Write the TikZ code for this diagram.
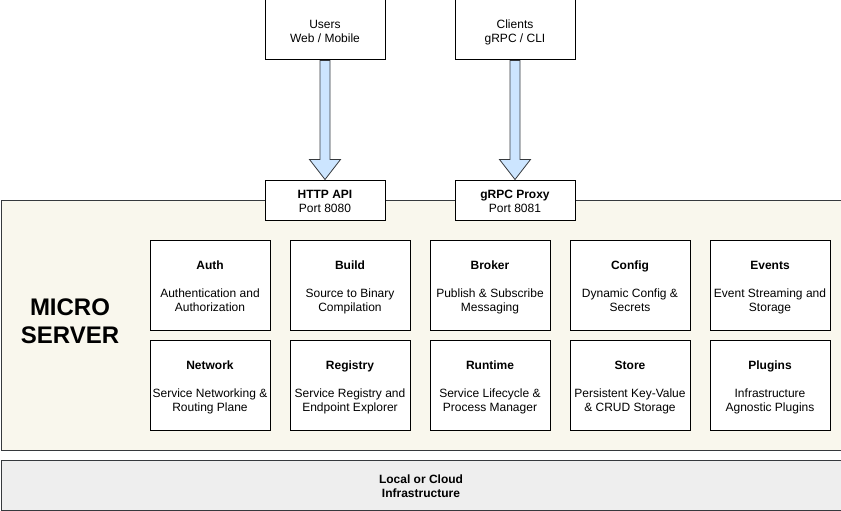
\documentclass[tikz,border=0pt]{standalone}
\usepackage{fontspec}
\setmainfont{Liberation Sans}
\usetikzlibrary{calc}
\definecolor{strokec}{HTML}{36393D}
\definecolor{cream}{HTML}{F9F7ED}
\definecolor{infra}{HTML}{EEEEEE}
\definecolor{arrowfill}{HTML}{CCE5FF}
\newcommand{\topstrut}{\rule{0pt}{14.1pt}}
\newcommand{\botstrut}{\rule[-3.5pt]{0pt}{3.5pt}}
\newcommand{\svctext}[3]{\topstrut{\bfseries #1}\\[14pt]#2\\#3\botstrut}
\begin{document}
\begin{tikzpicture}[x=1pt,y=-1pt,
  every node/.style={font=\fontsize{12}{14}\selectfont, align=center, inner sep=0pt},
  plainbox/.style={draw=black, fill=white, line width=1pt, minimum width=120pt, minimum height=60pt},
  portbox/.style={draw=black, fill=white, line width=1pt, minimum width=120pt, minimum height=40pt},
  svcbox/.style={draw=black, fill=white, line width=1pt, minimum width=120pt, minimum height=90pt},
  bigarrow/.style={draw=strokec, fill=arrowfill, line width=0.8pt, line join=miter}]
\useasboundingbox (0,0) rectangle (841,511);
% container
\node[draw=strokec, fill=cream, line width=1pt, minimum width=840pt, minimum height=250pt, anchor=north west] (micro) at (0.5,200) {};
\node[draw=strokec, fill=infra, line width=1pt, minimum width=840pt, minimum height=50pt, anchor=north west, font=\fontsize{12}{14}\selectfont\bfseries] (infra) at (0.5,460) {\topstrut Local or Cloud\\Infrastructure\botstrut};
\node[font=\fontsize{24}{28}\selectfont\bfseries] (title) at (70,321) {\rule{0pt}{22.6pt}MICRO\\SERVER\rule[-5.4pt]{0pt}{5.4pt}};
% top
\node[plainbox] (users) at (325,30) {\topstrut Users\\Web / Mobile\botstrut};
\node[plainbox] (clients) at (515,30) {\topstrut Clients\\gRPC / CLI\botstrut};
\node[portbox] (http) at (325,200) {\topstrut{\bfseries HTTP API}\\Port 8080\botstrut};
\node[portbox] (grpc) at (515,200) {\topstrut{\bfseries gRPC Proxy}\\Port 8081\botstrut};
% arrows
\foreach \a/\b in {users/http, clients/grpc}{
  \draw[bigarrow] ($(\a.south)+(-5,0)$) -- ($(\b.north)+(-5,-20)$) -- ($(\b.north)+(-15.5,-20)$)
    -- (\b.north) -- ($(\b.north)+(15.5,-20)$) -- ($(\b.north)+(5,-20)$) -- ($(\a.south)+(5,0)$) -- cycle;
}
% services
\node[svcbox] (auth) at (210,285) {\svctext{Auth}{Authentication and}{Authorization}};
\node[svcbox] (build) at (350,285) {\svctext{Build}{Source to Binary}{Compilation}};
\node[svcbox] (broker) at (490,285) {\svctext{Broker}{Publish \& Subscribe}{Messaging}};
\node[svcbox] (config) at (630,285) {\svctext{Config}{Dynamic Config \&}{Secrets}};
\node[svcbox] (events) at (770,285) {\svctext{Events}{Event Streaming and}{Storage}};
\node[svcbox] (network) at (210,385) {\svctext{Network}{Service Networking \&}{Routing Plane}};
\node[svcbox] (registry) at (350,385) {\svctext{Registry}{Service Registry and}{Endpoint Explorer}};
\node[svcbox] (runtime) at (490,385) {\svctext{Runtime}{Service Lifecycle \&}{Process Manager}};
\node[svcbox] (store) at (630,385) {\svctext{Store}{Persistent Key-Value}{\& CRUD Storage}};
\node[svcbox] (plugins) at (770,385) {\svctext{Plugins}{Infrastructure}{Agnostic Plugins}};
\end{tikzpicture}
\end{document}
